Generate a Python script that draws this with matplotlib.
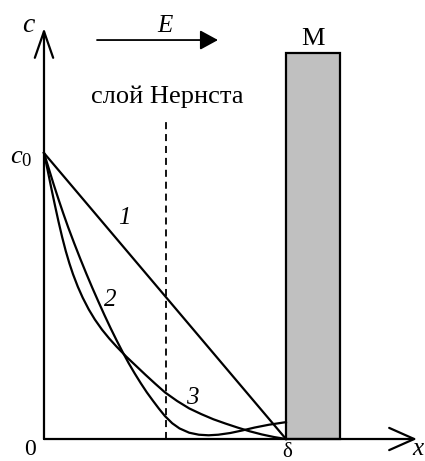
import numpy as np
import matplotlib
matplotlib.use('Agg')
import matplotlib.pyplot as plt
from matplotlib.patches import Rectangle

plt.rcParams['font.family'] = ['Liberation Serif', 'DejaVu Serif']
plt.rcParams['mathtext.fontset'] = 'custom'
plt.rcParams['mathtext.rm'] = 'Liberation Serif'
plt.rcParams['mathtext.it'] = 'Liberation Serif:italic'

# concentration profiles, x in units of delta, c in units of c0
x1 = [0.0, 1.0]
c1 = [1.0, 0.0]

x2 = [0.0, 0.02, 0.04, 0.06, 0.08, 0.10, 0.125, 0.15, 0.175, 0.20, 0.225,
      0.25, 0.275, 0.30, 0.325, 0.35, 0.375, 0.40, 0.425, 0.45, 0.475, 0.50,
      0.53, 0.56, 0.60, 0.64, 0.68, 0.72, 0.77, 0.82, 0.87, 0.93, 1.0]
c2 = [1.0, 0.945, 0.890, 0.838, 0.788, 0.740, 0.684, 0.630, 0.578, 0.528,
      0.480, 0.433, 0.388, 0.345, 0.304, 0.265, 0.229, 0.195, 0.163, 0.134,
      0.106, 0.080, 0.055, 0.037, 0.022, 0.015, 0.013, 0.015, 0.021, 0.030,
      0.040, 0.050, 0.059]

x3 = [0.0, 0.015, 0.03, 0.045, 0.06, 0.075, 0.09, 0.105, 0.12, 0.14, 0.16,
      0.185, 0.21, 0.24, 0.27, 0.30, 0.34, 0.38, 0.42, 0.46, 0.50, 0.55,
      0.60, 0.65, 0.70, 0.75, 0.80, 0.85, 0.90, 0.95, 1.0]
c3 = [1.0, 0.940, 0.878, 0.818, 0.760, 0.706, 0.657, 0.614, 0.576, 0.532,
      0.494, 0.453, 0.418, 0.382, 0.351, 0.323, 0.288, 0.256, 0.224, 0.193,
      0.163, 0.133, 0.107, 0.087, 0.069, 0.054, 0.040, 0.027, 0.016, 0.007,
      0.0]

delta = 1.0
nernst_x = 0.504
metal_w = 0.223
metal_h = 1.35

fig = plt.figure(figsize=(4.25, 4.61), dpi=100)
ax = fig.add_axes([0, 0, 1, 1])
ax.set_xlim(-0.1818, 1.5744)
ax.set_ylim(-0.0769, 1.5350)
ax.axis('off')

lw = 1.6
# axes with open arrows
ax.annotate('', xy=(0, 1.437), xytext=(0, 0),
            arrowprops=dict(arrowstyle='->,head_length=0.95,head_width=0.33',
                            lw=lw, color='black', shrinkA=0, shrinkB=0,
                            mutation_scale=20))
ax.annotate('', xy=(1.541, 0), xytext=(0, 0),
            arrowprops=dict(arrowstyle='->,head_length=0.9,head_width=0.4',
                            lw=lw, color='black', shrinkA=0, shrinkB=0,
                            mutation_scale=20))

# field arrow
ax.annotate('', xy=(0.719, 1.395), xytext=(0.219, 1.395),
            arrowprops=dict(arrowstyle='-|>,head_length=0.55,head_width=0.3',
                            lw=1.3, color='black', shrinkA=0, shrinkB=0,
                            mutation_scale=20))
ax.text(0.5, 1.445, 'E', style='italic', fontsize=18, ha='center', va='center')

# metal electrode
ax.add_patch(Rectangle((delta, 0), metal_w, metal_h, facecolor='#c0c0c0',
                       edgecolor='black', lw=lw, zorder=1))
ax.text(delta + metal_w / 2, 1.40, 'M', fontsize=19, ha='center', va='center')

# Nernst layer boundary
ax.plot([nernst_x, nernst_x], [0, 1.115], color='black', lw=1.3,
        dashes=(3.9, 2.7))
ax.text(0.508, 1.196, 'слой Нернста', fontsize=19, ha='center', va='center')

ax.plot(x1, c1, color='black', lw=lw, zorder=3)
ax.plot(x2, c2, color='black', lw=lw, zorder=3)
ax.plot(x3, c3, color='black', lw=lw, zorder=3)

ax.text(0.331, 0.773, '1', style='italic', fontsize=18, ha='center', va='center')
ax.text(0.273, 0.486, '2', style='italic', fontsize=18, ha='center', va='center')
ax.text(0.612, 0.143, '3', style='italic', fontsize=18, ha='center', va='center')

ax.text(-0.066, 1.445, 'c', style='italic', fontsize=20, ha='center', va='center')
ax.text(-0.095, 0.983, '$c_0$', fontsize=19, ha='center', va='center')
ax.text(-0.058, -0.072, '0', fontsize=17, ha='center', va='bottom')
ax.text(1.004, -0.064, 'δ', fontsize=15, ha='center', va='baseline')
ax.text(1.546, -0.072, 'x', style='italic', fontsize=18, ha='center', va='bottom')

fig.savefig('out.png', dpi=100)
